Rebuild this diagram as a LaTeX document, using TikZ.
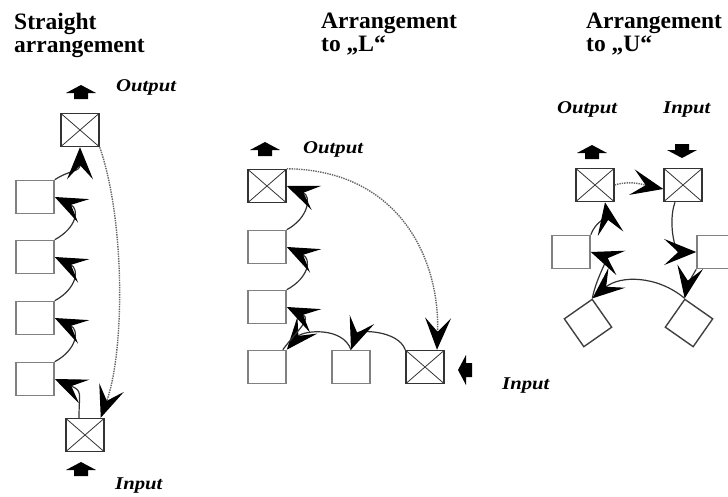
\documentclass[tikz,border=0pt]{standalone}
\usepackage{fontspec}
\setmainfont{Liberation Serif}
\usetikzlibrary{arrows.meta}
\tikzset{
  pbox/.style={draw=black!50, line width=1.6pt, minimum width=38pt, minimum height=33pt, inner sep=0pt},
  dbox/.style={draw=black!75, line width=1.4pt, minimum width=34pt, minimum height=34pt, inner sep=0pt},
  xbox/.style={draw=black!80, line width=1.5pt, minimum width=38pt, minimum height=33pt, inner sep=0pt,
    path picture={\draw[line width=0.8pt,black!80] (path picture bounding box.south west) -- (path picture bounding box.north east)
      (path picture bounding box.north west) -- (path picture bounding box.south east);}},
  bighead/.style={-{Stealth[length=32pt,width=26pt,inset=14pt,color=black]}},
  flow/.style={draw=black!80, line width=1.2pt, bighead},
  dots/.style={draw=black!60, line width=1.4pt, densely dotted, bighead},
  title/.style={font=\bfseries\fontsize{23.5}{23}\selectfont, align=left, anchor=north west, inner sep=0pt},
  lab/.style={font=\bfseries\itshape\fontsize{18}{18}\selectfont, anchor=base west, inner sep=0pt, xscale=1.15},
  blockarrow/.pic={\fill[black] (0,-8) -- (15,0) -- (7,0) -- (7,6) -- (-7,6) -- (-7,0) -- (-15,0) -- cycle;}
}
\begin{document}
\begin{tikzpicture}[x=1pt,y=-1pt]
\useasboundingbox (0,0) rectangle (728,496);
\clip (0,0) rectangle (728,496);
% ---------- titles ----------
\node[title] (t1) at (14,13) {Straight\\arrangement};
\node[title] (t2) at (321,13) {Arrangement\\to „L“};
\node[title] (t3) at (586,13) {Arrangement\\to „U“};
% ---------- straight arrangement ----------
\node[xbox] (ST) at (80,130) {};
\node[pbox] (S1) at (35,197) {};
\node[pbox] (S2) at (35,257) {};
\node[pbox] (S3) at (35,318) {};
\node[pbox] (S4) at (35,379) {};
\node[xbox] (SB) at (85,435) {};
\pic at (81,93) {blockarrow};
\pic at (81,470) {blockarrow};
\node[lab] (so) at (116,91) {Output};
\node[lab] (si) at (115,489) {Input};
\draw[flow] ([xshift=-6pt]SB.north) .. controls +(0,-25) and +(28,12) .. (S4.east);
\draw[flow] (S4.north east) .. controls +(22,-12) and +(25,12) .. (S3.east);
\draw[flow] (S3.north east) .. controls +(22,-12) and +(25,12) .. (S2.east);
\draw[flow] (S2.north east) .. controls +(22,-12) and +(25,12) .. (S1.east);
\draw[flow] (S1.north east) .. controls +(15,-10) and +(0,25) .. (ST.south);
\draw[dots] (ST.south east) .. controls (125,220) and (125,350) .. ([xshift=-4pt]SB.north east);
% ---------- L arrangement ----------
\node[xbox] (LT) at (267,186) {};
\node[pbox] (L2) at (267,247) {};
\node[pbox] (L3) at (267,307) {};
\node[pbox] (L4) at (267,367) {};
\node[pbox] (LM) at (351,367) {};
\node[xbox] (LR) at (425,367) {};
\pic at (265,150) {blockarrow};
\pic[rotate=90] at (466,370) {blockarrow};
\node[lab] (lo) at (303,153) {Output};
\node[lab] (li) at (502,389) {Input};
\draw[flow] (LR.north west) to[out=110,in=70] (LM.north);
\draw[flow] (LM.north) to[out=110,in=50] (L4.north east);
\draw[flow] ([xshift=-4pt]L4.north east) .. controls +(15,-20) and +(25,12) .. (L3.east);
\draw[flow] (L3.north east) .. controls +(22,-12) and +(25,12) .. (L2.east);
\draw[flow] (L2.north east) .. controls +(22,-12) and +(25,10) .. (LT.east);
\draw[dots] (LT.north east) .. controls (400,170) and (440,260) .. ([xshift=12pt]LR.north);
% ---------- U arrangement ----------
\node[xbox] (UO) at (595,185) {};
\node[xbox] (UI) at (683,185) {};
\node[pbox] (UL) at (571,252) {};
\node[pbox] (UR) at (716,252) {};
\node[dbox, rotate=35] (UDL) at (588,323) {};
\node[dbox, rotate=-35] (UDR) at (689,323) {};
\pic at (592,153) {blockarrow};
\pic[rotate=180] at (682,150) {blockarrow};
\node[lab] (uo) at (557,113) {Output};
\node[lab] (ui) at (663,113) {Input};
\draw[dots] (UO.east) .. controls (630,180) and (645,185) .. ([yshift=-4pt]UI.west);
\draw[flow] ([xshift=-8pt]UI.south) to[out=-110,in=180] (UR.west);
\draw[flow] (UR.south west) to[out=-120,in=80] (UDR.north west);
\draw[flow] (UDR.north west) to[out=140,in=40] (UDL.north east);
\draw[flow] (UDL.north east) to[out=80,in=-20] (UL.east);
\draw[flow] (UL.north east) to[out=70,in=-80] ([xshift=10pt]UO.south);
\end{tikzpicture}
\end{document}
